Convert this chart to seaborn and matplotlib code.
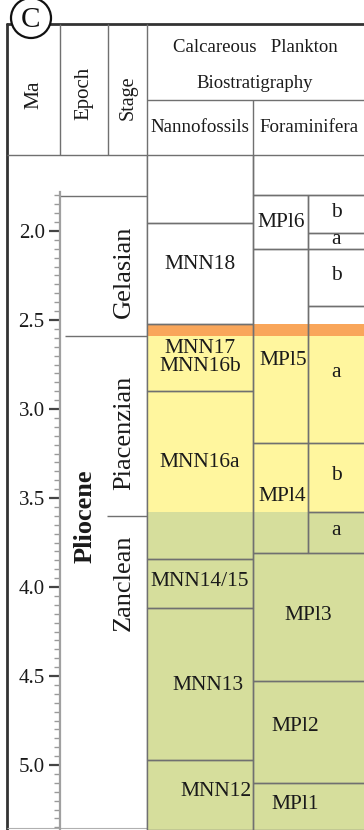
import numpy as np
import seaborn as sns
from matplotlib import pyplot as plt
from matplotlib.patches import Circle
from matplotlib.ticker import MultipleLocator

# zone tables (Ma)
nanno_names = ["", "MNN18", "MNN17\nMNN16b", "MNN16a", "MNN14/15", "MNN13", "MNN12"]
nanno_top = [1.573, 1.955, 2.52, 2.90, 3.84, 4.12, 4.97]
nanno_base = [1.955, 2.52, 2.90, 3.84, 4.12, 4.97, 5.365]

mp_names = ["", "MPl6", "MPl5", "MPl4", "MPl3", "MPl2", "MPl1"]
mp_top = [1.573, 1.80, 2.10, 3.19, 3.81, 4.53, 5.10]
mp_base = [1.80, 2.10, 3.19, 3.81, 4.53, 5.10, 5.365]
mp_has_sub = [False, True, True, True, False, False, False]

sub_names = ["b", "a", "b", "a", "b", "a"]
sub_top = [1.80, 2.01, 2.10, 2.42, 3.19, 3.58]
sub_base = [2.01, 2.10, 2.42, 3.19, 3.58, 3.81]

stage_names = ["Gelasian", "Piacenzian", "Zanclean"]
stage_top = [1.806, 2.588, 3.60]
stage_base = [2.588, 3.60, 5.333]

epoch_names = ["Pliocene"]
epoch_top = [2.588]
epoch_base = [5.333]

band_top = [1.573, 2.52, 2.59, 3.58]
band_base = [2.52, 2.59, 3.58, 5.365]
band_colors = ["#ffffff", "#f9a65a", "#fff69e", "#d6de9c"]

# layout (pixels)
W, H = 364, 830
X_MA, X_STAGE, X_NANNO, X_MP, X_SUB = 60, 108, 147, 253, 308
HEAD = 155
LINE = "#707070"
INK = "#1a1a1a"
ZFONT = 15.5


sns.set_theme(style="white")
plt.rcParams['font.family'] = ['Liberation Serif', 'DejaVu Serif']

fig = plt.figure(figsize=(W / 100, H / 100), dpi=100)
frame = fig.add_axes([0, 0, 1, 1])
frame.set_xlim(0, W)
frame.set_ylim(H, 0)
frame.axis('off')

ax = fig.add_axes([0, 0, 1, (H - HEAD) / H])
ax.patch.set_alpha(0)
ax.set_xlim(0, W)
ax.set_ylim(2.0 + (H - 231) / 178, 2.0 + (HEAD - 231) / 178)

# colour bands behind the biozones
tops = np.array(band_top)
ax.bar(X_NANNO, np.array(band_base) - tops, bottom=tops, width=W + 3 - X_NANNO,
       align='edge', color=band_colors, linewidth=0, zorder=1)

# nannofossil zones
t = np.array(nanno_top)
ax.bar(X_NANNO, np.array(nanno_base) - t, bottom=t, width=X_MP - X_NANNO,
       align='edge', fill=False, edgecolor=LINE, linewidth=1, zorder=2)
nanno_x = [200, 200, 200, 200, 200, 208, 216]
nanno_dy = [0, -0.05, 0.0, -0.07, -0.01, 0.01, -0.02]
for name, a, b, x, dy in zip(nanno_names, nanno_top, nanno_base, nanno_x, nanno_dy):
    if name:
        ax.text(x, (a + b) / 2 + dy, name, ha='center', va='center',
                fontsize=ZFONT, color=INK, linespacing=0.9, zorder=4)

# planktonic foraminifera zones
t = np.array(mp_top)
widths = [X_SUB - X_MP if s else W + 3 - X_MP for s in mp_has_sub]
ax.bar(X_MP, np.array(mp_base) - t, bottom=t, width=widths,
       align='edge', fill=False, edgecolor=LINE, linewidth=1, zorder=2)
mp_x = [280, 281, 283, 282, 308, 295, 295]
mp_dy = [0, 0, 0.08, -0.01, -0.01, -0.03, -0.01]
for name, a, b, x, dy in zip(mp_names, mp_top, mp_base, mp_x, mp_dy):
    if name:
        ax.text(x, (a + b) / 2 + dy, name, ha='center', va='center',
                fontsize=ZFONT, color=INK, zorder=4)

t = np.array(sub_top)
ax.bar(X_SUB, np.array(sub_base) - t, bottom=t, width=W + 3 - X_SUB,
       align='edge', fill=False, edgecolor=LINE, linewidth=1, zorder=2)
for name, a, b in zip(sub_names, sub_top, sub_base):
    ax.text(336, (a + b) / 2 - 0.01, name, ha='center', va='center',
            fontsize=ZFONT, color=INK, zorder=4)

# stages and epoch
stage_x0 = [X_MA, 65, X_STAGE - 1]
ax.hlines(stage_top, stage_x0, X_NANNO, color=LINE, linewidth=1, zorder=2)
stage_dy = [0.03, 0.04, -0.49]
for name, a, b, dy in zip(stage_names, stage_top, stage_base, stage_dy):
    ax.text(124, (a + b) / 2 + dy, name, rotation=90, ha='center', va='center',
            fontsize=19, color=INK, zorder=4)
for name, a, b in zip(epoch_names, epoch_top, epoch_base):
    ax.text(85, (a + b) / 2 - 0.36, name, rotation=90, ha='center', va='center',
            fontsize=19, fontweight='bold', color=INK, zorder=4)

# Ma scale
sns.despine(ax=ax, top=True, right=True, bottom=True, left=False)
ax.spines['left'].set_position(('data', X_MA))
ax.spines['left'].set_bounds(1.78, ax.get_ylim()[0])
ax.spines['left'].set_color("#a0a0a0")
ax.spines['left'].set_linewidth(1.6)
ax.set_xticks([])
ax.yaxis.set_major_locator(MultipleLocator(0.5))
ax.yaxis.set_minor_locator(MultipleLocator(0.05))
ax.set_yticks(np.arange(2.0, 5.01, 0.5))
ax.set_yticks(np.arange(1.80, 5.36, 0.05), minor=True)
ax.yaxis.set_major_formatter(plt.FuncFormatter(lambda v, p: f"{v:.1f}"))
ax.tick_params(axis='y', which='major', direction='out', length=8, width=1.6,
               color="#444444", labelsize=15, labelcolor=INK, pad=3, left=True)
ax.tick_params(axis='y', which='minor', direction='out', length=4, width=1,
               color="#9a9a9a", left=True)

# header grid and frame
frame.plot([7, W], [24, 24], color="#333333", linewidth=2)
frame.plot([7, 7], [24, H], color="#333333", linewidth=2)
frame.hlines(HEAD, 7, W, color=LINE, linewidth=1)
frame.hlines(100, X_NANNO, W, color=LINE, linewidth=1)
frame.vlines([X_MA, X_STAGE], 24, HEAD, color=LINE, linewidth=1)
frame.vlines(X_NANNO, 24, H, color=LINE, linewidth=1, zorder=3)
frame.vlines(X_MP, 100, H, color=LINE, linewidth=1, zorder=3)
frame.hlines(H - 2, 7, W, color="#b0b0b0", linewidth=0.8)

frame.text(34, 95, "Ma", rotation=90, ha='center', va='center', fontsize=15.5, color=INK)
frame.text(84, 93, "Epoch", rotation=90, ha='center', va='center', fontsize=15, color=INK)
frame.text(128, 98, "Stage", rotation=90, ha='center', va='center', fontsize=14.5, color=INK)
frame.text(255, 47, "Calcareous   Plankton", ha='center', va='center', fontsize=13.5, color=INK)
frame.text(255, 84, "Biostratigraphy", ha='center', va='center', fontsize=13.5, color=INK)
frame.text(200, 128, "Nannofossils", ha='center', va='center', fontsize=13.7, color=INK)
frame.text(309, 128, "Foraminifera", ha='center', va='center', fontsize=13.7, color=INK)

frame.add_patch(Circle((31, 18), 20, facecolor='white', edgecolor='#111111',
                       linewidth=1.6, zorder=5))
frame.text(31, 20, "C", ha='center', va='center', fontsize=21, color='#111111', zorder=6)

fig.savefig("out.png", dpi=100)
